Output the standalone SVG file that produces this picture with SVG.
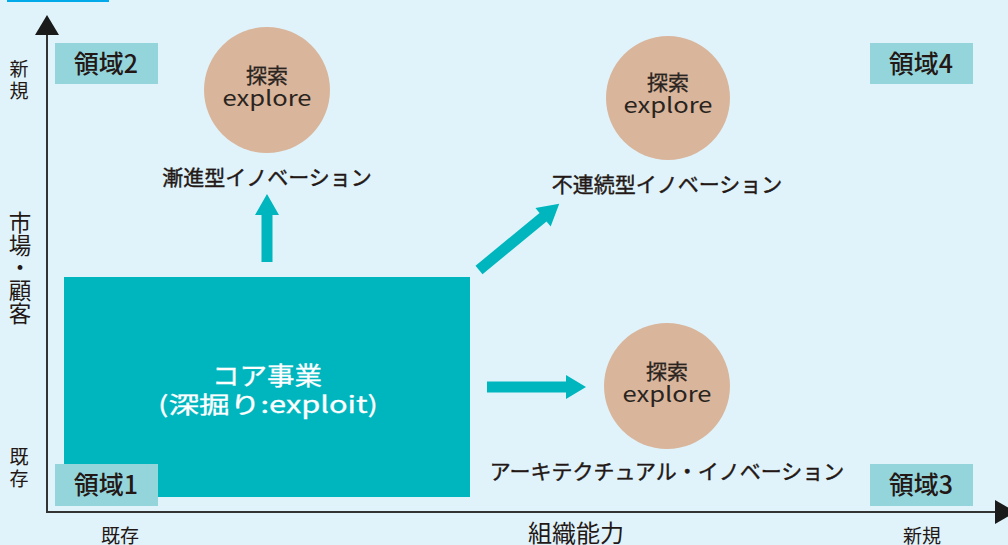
<svg xmlns="http://www.w3.org/2000/svg" width="1008" height="545" viewBox="0 0 1008 545">
<defs>
<style>
text{font-family:"Noto Sans CJK JP","Noto Sans",sans-serif;fill:#231815;text-anchor:middle}
.bg{fill:#E0F3FB}
.region{fill:#94D5DC}
.rlabel{font-size:25px;font-weight:500}
.circle{fill:#D9B59B}
.ctext{font-size:21px;fill:#2a2420;stroke:#2a2420;stroke-width:0.3}
.etext{font-size:21px;fill:#2a2420}
.inno{font-size:21px;stroke:#231815;stroke-width:0.4}
.axis{stroke:#333;stroke-width:2;fill:none}
.axhead{fill:#1a1a1a}
.arrow{fill:#00B6BE}
.core{fill:#00B6BE}
.coretext{fill:#fff;stroke:#fff;stroke-width:0.3}
.side{font-size:19px}
.vside{font-size:19px;writing-mode:vertical-rl;text-anchor:start;letter-spacing:3px}
.vert{font-size:22.5px;writing-mode:vertical-rl;text-anchor:start;letter-spacing:0.3px}
</style>
</defs>
<rect class="bg" x="0" y="0" width="1008" height="545"/>
<rect x="7" y="0" width="102" height="2" fill="#00A9EA"/>

<g id="axes">
<line class="axis" x1="47" y1="30" x2="47" y2="513"/>
<line class="axis" x1="46" y1="512" x2="1000" y2="512"/>
<polygon class="axhead" points="47,15 59,35 35,35"/>
<polygon class="axhead" points="1016,512 995,500 995,524"/>
<text class="vside" x="19" y="59">新規</text>
<text class="vert" x="20" y="211">市場・顧客</text>
<text class="vside" x="19" y="447">既存</text>
<text class="side" x="120" y="543">既存</text>
<text x="576" y="542" font-size="24">組織能力</text>
<text class="side" x="922" y="543">新規</text>
</g>

<g id="core">
<rect class="core" x="64" y="277" width="406" height="220"/>
<text class="coretext" x="267" y="385" font-size="25" textLength="110" lengthAdjust="spacingAndGlyphs">コア事業</text>
<text class="coretext" x="268" y="413" font-size="23" textLength="220" lengthAdjust="spacingAndGlyphs">(深掘り:exploit)</text>
</g>

<g id="region1">
<rect class="region" x="55" y="464" width="103" height="42"/>
<text class="rlabel" x="106" y="494">領域1</text>
</g>
<g id="region2">
<rect class="region" x="55" y="43" width="103" height="41"/>
<text class="rlabel" x="106" y="73">領域2</text>
</g>
<g id="region3">
<rect class="region" x="870" y="464" width="103" height="42"/>
<text class="rlabel" x="921" y="494">領域3</text>
</g>
<g id="region4">
<rect class="region" x="870" y="43" width="103" height="41"/>
<text class="rlabel" x="921" y="73">領域4</text>
</g>

<g id="explore1">
<circle class="circle" cx="267" cy="90" r="63"/>
<text class="ctext" x="267" y="83">探索</text>
<text class="etext" x="267" y="106" textLength="89" lengthAdjust="spacingAndGlyphs">explore</text>
<text class="inno" x="267" y="185">漸進型イノベーション</text>
</g>
<g id="explore2">
<circle class="circle" cx="668" cy="98" r="62"/>
<text class="ctext" x="668" y="90">探索</text>
<text class="etext" x="668" y="113" textLength="89" lengthAdjust="spacingAndGlyphs">explore</text>
<text class="inno" x="667" y="192">不連続型イノベーション</text>
</g>
<g id="explore3">
<circle class="circle" cx="667" cy="386" r="63"/>
<text class="ctext" x="667" y="379">探索</text>
<text class="etext" x="667" y="402" textLength="89" lengthAdjust="spacingAndGlyphs">explore</text>
<text class="inno" x="667" y="479">アーキテクチュアル・イノベーション</text>
</g>

<g id="connectors">
<polygon class="arrow" points="261.5,262 261.5,215 255,215 267,194 279,215 272.5,215 272.5,262"/>
<polygon class="arrow" points="487,381.5 566,381.5 566,375 586,387 566,399 566,392.5 487,392.5"/>
<polygon class="arrow" transform="translate(479,270) rotate(-39.5)" points="0,-5.5 83,-5.5 83,-12 104,0 83,12 83,5.5 0,5.5"/>
</g>
</svg>
